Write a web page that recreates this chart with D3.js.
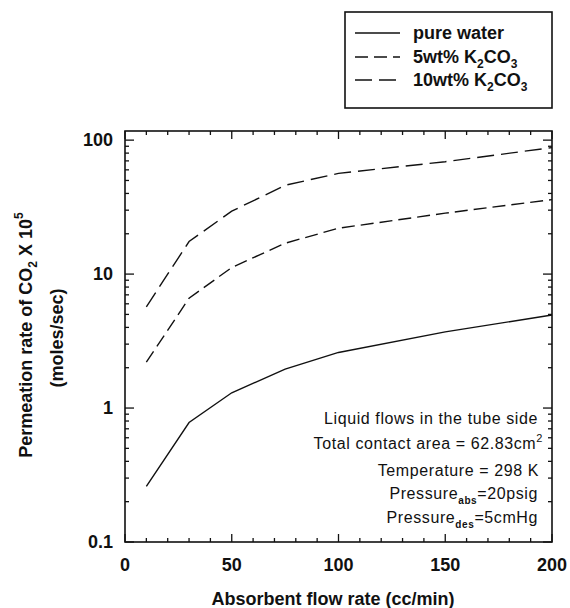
<!DOCTYPE html>
<html><head><meta charset="utf-8">
<script src="https://cdn.jsdelivr.net/npm/d3@7"></script>
<style>
body{margin:0;background:#fff;}
svg{display:block;font-family:"Liberation Sans",Arial,sans-serif;}
</style></head>
<body><svg id="c" width="570" height="608"></svg>
<script>
const flowRates = [10, 30, 50, 75, 100, 150, 200];
const pureWater = [0.26, 0.78, 1.3, 1.95, 2.6, 3.7, 4.95];
const k2co3_5 = [2.2, 6.6, 11.2, 17, 22, 28.5, 36];
const k2co3_10 = [5.7, 17.5, 29.5, 46, 56.5, 69, 88];
const xTicks = [0, 50, 100, 150, 200];
const yTicks = [0.1, 1, 10, 100];
const yTickLabels = ["0.1", "1", "10", "100"];
const seriesNames = ["pure water", "5wt% K2CO3", "10wt% K2CO3"];

const svg = d3.select("#c");
const L = 125, R = 552, T = 131, B = 542;
const x = d3.scaleLinear().domain([0, 200]).range([L, R]);
const y = d3.scaleLog().domain([0.1, 117]).range([B, T]);

const ink = "#111";
// frame
svg.append("rect").attr("x", L).attr("y", T).attr("width", R - L).attr("height", B - T)
  .attr("fill", "none").attr("stroke", ink).attr("stroke-width", 1.6);

// x ticks (inward, bottom & top)
const xMinor = d3.range(0, 201, 10);
xMinor.forEach(v => {
  const major = v % 50 === 0;
  const len = major ? 8 : 4;
  svg.append("line").attr("x1", x(v)).attr("x2", x(v)).attr("y1", B).attr("y2", B - len).attr("stroke", ink).attr("stroke-width", 1.3);
  svg.append("line").attr("x1", x(v)).attr("x2", x(v)).attr("y1", T).attr("y2", T + len).attr("stroke", ink).attr("stroke-width", 1.3);
});
// y ticks (inward, left & right)
const yMinor = [];
[0.1, 1, 10, 100].forEach(d => { for (let k = 1; k <= 9; k++) { const v = d * k; if (v <= 117) yMinor.push(v); } });
yMinor.forEach(v => {
  const major = Math.abs(Math.log10(v) - Math.round(Math.log10(v))) < 1e-9;
  const len = major ? 9 : 4;
  svg.append("line").attr("x1", L).attr("x2", L + len).attr("y1", y(v)).attr("y2", y(v)).attr("stroke", ink).attr("stroke-width", 1.3);
  svg.append("line").attr("x1", R).attr("x2", R - len).attr("y1", y(v)).attr("y2", y(v)).attr("stroke", ink).attr("stroke-width", 1.3);
});

// tick labels
svg.selectAll(".xl").data(xTicks).enter().append("text")
  .attr("x", d => x(d)).attr("y", 565).attr("dy", "0.35em").attr("text-anchor", "middle")
  .attr("font-size", 18).attr("font-weight", "bold").attr("fill", ink).text(d => d);
svg.selectAll(".yl").data(yTicks).enter().append("text")
  .attr("x", 113).attr("y", d => y(d)).attr("dy", "0.35em").attr("text-anchor", "end")
  .attr("font-size", 18).attr("font-weight", "bold").attr("fill", ink).text((d, i) => yTickLabels[i]);

// axis titles
svg.append("text").attr("x", 333).attr("y", 599).attr("dy", "0.35em").attr("text-anchor", "middle")
  .attr("font-size", 18).attr("font-weight", "bold").attr("fill", ink).text("Absorbent flow rate (cc/min)");
const yt = svg.append("text").attr("transform", "translate(32,335) rotate(-90)").attr("text-anchor", "middle")
  .attr("font-size", 18).attr("font-weight", "bold").attr("fill", ink);
yt.append("tspan").text("Permeation rate of CO");
yt.append("tspan").attr("font-size", 12).attr("dy", 5).text("2");
yt.append("tspan").attr("dy", -5).text(" X 10");
yt.append("tspan").attr("font-size", 12).attr("dy", -9).text("5");
svg.append("text").attr("transform", "translate(63,338) rotate(-90)").attr("text-anchor", "middle")
  .attr("font-size", 18).attr("font-weight", "bold").attr("fill", ink).text("(moles/sec)");

// lines
const dashes = [null, "13,6", "17,7"];
const allSeries = [pureWater, k2co3_5, k2co3_10];
const line = d3.line().x(d => x(d[0])).y(d => y(d[1]));
allSeries.forEach((s, i) => {
  svg.append("path").datum(flowRates.map((f, j) => [f, s[j]]))
    .attr("d", line).attr("fill", "none").attr("stroke", ink).attr("stroke-width", 1.4)
    .attr("stroke-dasharray", dashes[i]);
});

// legend
svg.append("rect").attr("x", 345).attr("y", 12).attr("width", 207).attr("height", 96)
  .attr("fill", "#fff").attr("stroke", ink).attr("stroke-width", 1.6);
const rows = [33, 57, 80];
seriesNames.forEach((n, i) => {
  svg.append("line").attr("x1", 355).attr("x2", 400).attr("y1", rows[i]).attr("y2", rows[i])
    .attr("stroke", ink).attr("stroke-width", 1.4).attr("stroke-dasharray", dashes[i]);
  const t = svg.append("text").attr("x", 413).attr("y", rows[i]).attr("dy", "0.35em")
    .attr("font-size", 18).attr("font-weight", "bold").attr("fill", ink);
  if (i === 0) { t.text(n); }
  else {
    const pre = n.split("K2CO3")[0];
    t.append("tspan").text(pre + "K");
    t.append("tspan").attr("font-size", 12).attr("dy", 5).text("2");
    t.append("tspan").attr("dy", -5).text("CO");
    t.append("tspan").attr("font-size", 12).attr("dy", 5).text("3");
  }
});

// annotations
const ann = svg.append("g").attr("font-size", 16).attr("fill", ink).attr("text-anchor", "end").attr("letter-spacing", 0.6);
ann.append("text").attr("x", 538).attr("y", 418).attr("dy", "0.35em").text("Liquid flows in the tube side");
const a2 = ann.append("text").attr("x", 543).attr("y", 443).attr("dy", "0.35em");
a2.append("tspan").text("Total contact area = 62.83cm");
a2.append("tspan").attr("font-size", 11).attr("dy", -7).text("2");
ann.append("text").attr("x", 539).attr("y", 470).attr("dy", "0.35em").text("Temperature = 298 K");
const a4 = ann.append("text").attr("x", 538).attr("y", 493).attr("dy", "0.35em");
a4.append("tspan").text("Pressure");
a4.append("tspan").attr("font-size", 10).attr("font-weight", "bold").attr("dy", 5).text("abs");
a4.append("tspan").attr("dy", -5).text("=20psig");
const a5 = ann.append("text").attr("x", 538).attr("y", 517).attr("dy", "0.35em");
a5.append("tspan").text("Pressure");
a5.append("tspan").attr("font-size", 10).attr("font-weight", "bold").attr("dy", 5).text("des");
a5.append("tspan").attr("dy", -5).text("=5cmHg");
</script></body></html>
